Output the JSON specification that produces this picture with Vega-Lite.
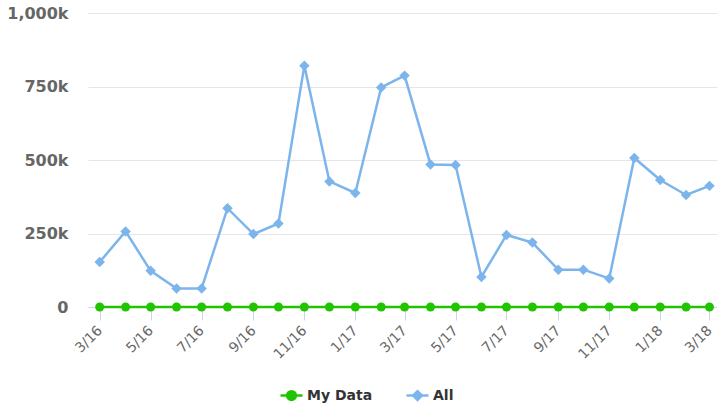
{
  "$schema": "https://vega.github.io/schema/vega-lite/v6.json",
  "width": 629,
  "height": 294,
  "autosize": "none",
  "padding": {"left": 88, "top": 13, "right": 0, "bottom": 102},
  "background": "white",
  "config": {"view": {"stroke": null}},
  "data": {
    "values": [
      {"date": "2016-03-01", "series": "All", "value": 153000},
      {"date": "2016-04-01", "series": "All", "value": 257000},
      {"date": "2016-05-01", "series": "All", "value": 123000},
      {"date": "2016-06-01", "series": "All", "value": 63000},
      {"date": "2016-07-01", "series": "All", "value": 63000},
      {"date": "2016-08-01", "series": "All", "value": 336000},
      {"date": "2016-09-01", "series": "All", "value": 248000},
      {"date": "2016-10-01", "series": "All", "value": 284000},
      {"date": "2016-11-01", "series": "All", "value": 821000},
      {"date": "2016-12-01", "series": "All", "value": 427000},
      {"date": "2017-01-01", "series": "All", "value": 388000},
      {"date": "2017-02-01", "series": "All", "value": 747000},
      {"date": "2017-03-01", "series": "All", "value": 787000},
      {"date": "2017-04-01", "series": "All", "value": 485000},
      {"date": "2017-05-01", "series": "All", "value": 483000},
      {"date": "2017-06-01", "series": "All", "value": 102000},
      {"date": "2017-07-01", "series": "All", "value": 245000},
      {"date": "2017-08-01", "series": "All", "value": 219000},
      {"date": "2017-09-01", "series": "All", "value": 127000},
      {"date": "2017-10-01", "series": "All", "value": 127000},
      {"date": "2017-11-01", "series": "All", "value": 97000},
      {"date": "2017-12-01", "series": "All", "value": 507000},
      {"date": "2018-01-01", "series": "All", "value": 432000},
      {"date": "2018-02-01", "series": "All", "value": 381000},
      {"date": "2018-03-01", "series": "All", "value": 412000},
      {"date": "2016-03-01", "series": "My Data", "value": 0},
      {"date": "2016-04-01", "series": "My Data", "value": 0},
      {"date": "2016-05-01", "series": "My Data", "value": 0},
      {"date": "2016-06-01", "series": "My Data", "value": 0},
      {"date": "2016-07-01", "series": "My Data", "value": 0},
      {"date": "2016-08-01", "series": "My Data", "value": 0},
      {"date": "2016-09-01", "series": "My Data", "value": 0},
      {"date": "2016-10-01", "series": "My Data", "value": 0},
      {"date": "2016-11-01", "series": "My Data", "value": 0},
      {"date": "2016-12-01", "series": "My Data", "value": 0},
      {"date": "2017-01-01", "series": "My Data", "value": 0},
      {"date": "2017-02-01", "series": "My Data", "value": 0},
      {"date": "2017-03-01", "series": "My Data", "value": 0},
      {"date": "2017-04-01", "series": "My Data", "value": 0},
      {"date": "2017-05-01", "series": "My Data", "value": 0},
      {"date": "2017-06-01", "series": "My Data", "value": 0},
      {"date": "2017-07-01", "series": "My Data", "value": 0},
      {"date": "2017-08-01", "series": "My Data", "value": 0},
      {"date": "2017-09-01", "series": "My Data", "value": 0},
      {"date": "2017-10-01", "series": "My Data", "value": 0},
      {"date": "2017-11-01", "series": "My Data", "value": 0},
      {"date": "2017-12-01", "series": "My Data", "value": 0},
      {"date": "2018-01-01", "series": "My Data", "value": 0},
      {"date": "2018-02-01", "series": "My Data", "value": 0},
      {"date": "2018-03-01", "series": "My Data", "value": 0}
    ]
  },
  "encoding": {
    "x": {
      "field": "date",
      "type": "temporal",
      "scale": {"type": "utc", "domain": ["2016-02-16", "2018-03-10"]},
      "axis": {
        "title": null,
        "labelExpr": "utcFormat(datum.value, '%-m/%y')",
        "tickCount": {"interval": "month", "step": 2},
        "labelAngle": -45,
        "labelAlign": "right",
        "labelBaseline": "middle",
        "labelFont": "DejaVu Sans",
        "labelFontSize": 14,
        "labelColor": "#666666",
        "labelPadding": 8,
        "labelFlush": false,
        "labelOverlap": false,
        "domainColor": "#ccd6eb",
        "domainWidth": 1,
        "tickColor": "#ccd6eb",
        "tickSize": 13,
        "grid": false
      }
    },
    "y": {
      "field": "value",
      "type": "quantitative",
      "scale": {"domain": [0, 1000000], "nice": false},
      "axis": {
        "title": null,
        "values": [0, 250000, 500000, 750000, 1000000],
        "labelExpr": "datum.value == 0 ? '0' : format(datum.value / 1000, ',') + 'k'",
        "labelFont": "DejaVu Sans",
        "labelFontSize": 16,
        "labelFontWeight": "bold",
        "labelColor": "#666666",
        "labelPadding": 20,
        "domain": false,
        "ticks": false,
        "gridColor": "#e6e6e6",
        "gridWidth": 1
      }
    },
    "color": {
      "field": "series",
      "type": "nominal",
      "scale": {"domain": ["My Data", "All"], "range": ["#22c400", "#7cb5ec"]},
      "legend": {
        "title": null,
        "orient": "none",
        "direction": "horizontal",
        "legendX": 191,
        "legendY": 370,
        "symbolSize": 484,
        "symbolStrokeWidth": 2.5,
        "symbolOpacity": 1,
        "labelFont": "DejaVu Sans",
        "labelFontSize": 14,
        "labelFontWeight": "bold",
        "labelColor": "#333333",
        "labelOffset": 3,
        "columnPadding": 28,
        "encode": {
          "symbols": {
            "update": {
              "shape": {"signal": "datum.value == 'My Data' ? 'M-1,0H-0.4A0.4,0.4 0 1,1 0.4,0H1M0.4,0A0.4,0.4 0 1,1 -0.4,0Z' : 'M-1,0H1M0,-0.4L0.4,0L0,0.4L-0.4,0Z'"}
            }
          }
        }
      }
    }
  },
  "layer": [
    {"mark": {"type": "line", "strokeWidth": 2.5}},
    {
      "transform": [{"filter": "datum.series == 'My Data'"}],
      "mark": {"type": "point", "shape": "circle", "filled": true, "opacity": 1, "size": 81}
    },
    {
      "transform": [{"filter": "datum.series == 'All'"}],
      "mark": {"type": "point", "shape": "diamond", "filled": true, "opacity": 1, "size": 110}
    }
  ]
}
